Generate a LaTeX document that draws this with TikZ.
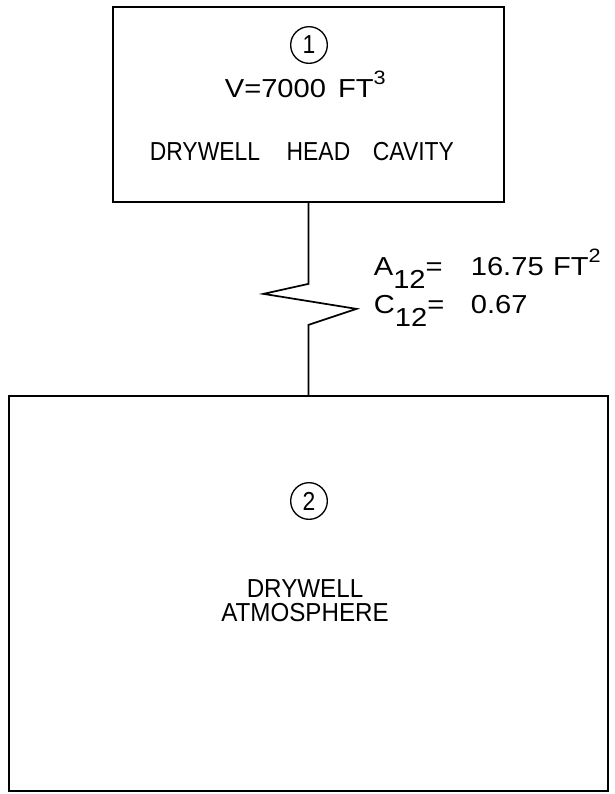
\documentclass[tikz,border=0pt]{standalone}
\usepackage{fontspec}
\setmainfont{Liberation Sans}
\newcommand{\lowidx}[1]{\raisebox{-1.0ex}{#1}}
\newcommand{\highidx}[1]{\raisebox{0.9ex}{\fontsize{14.5}{16}\selectfont #1}}
\begin{document}
\begin{tikzpicture}[x=0.75pt, y=-0.75pt, line width=1.3pt,
  lbl/.style={font=\fontsize{19.5}{18}\selectfont\addfontfeature{FakeStretch=0.88}, inner sep=0pt},
  num/.style={lbl, font=\fontsize{19.5}{18}\selectfont\addfontfeature{FakeStretch=1.12}},
  tag/.style={circle, draw, line width=1pt, minimum size=27.5pt, inner sep=0pt,
    font=\fontsize{19.5}{18}\selectfont\addfontfeature{FakeStretch=0.88}},
  volbox/.style={draw, inner sep=0pt}]
  \useasboundingbox (0,0) rectangle (615,794);

  % --- 1. volumes ---
  \node[volbox, minimum width=293.25pt, minimum height=146.25pt] (head) at (308.5,104.5) {};
  \node[volbox, minimum width=449.25pt, minimum height=296.25pt] (atmos) at (308.5,593.5) {};

  % volume 1
  \node[tag] (tag1) at (309,45) {1};
  \node[num, anchor=base west] (vol1) at (224,97) {V=7000\hspace{9pt}FT\highidx{3}};
  \node[lbl, anchor=base west] (name1) at (149,160)
    {DRYWELL\hspace{20pt}HEAD\hspace{17pt}CAVITY};

  % volume 2
  \node[tag] (tag2) at (309,501) {2};
  \node[lbl, align=center, font=\fontsize{19.5}{18}\selectfont\addfontfeature{FakeStretch=0.93}]
    (name2) at (305,601) {DRYWELL\\ATMOSPHERE};

  % --- 2. junction 1-2 (zigzag) ---
  \draw (head.south) -- ++(0,81) -- ++(-45,10) -- ++(93,15) -- ++(-48,16) -- (atmos.north);

  % flow area and loss coefficient
  \node[num, anchor=base west] (akey) at (373,275) {A\lowidx{12}=};
  \node[num, anchor=base west] (aval) at (470,275) {16.75\hspace{7pt}FT\highidx{2}};
  \node[num, anchor=base west] (ckey) at (373,313) {C\lowidx{12}=};
  \node[num, anchor=base west] (cval) at (470,313) {0.67};

\end{tikzpicture}
\end{document}
